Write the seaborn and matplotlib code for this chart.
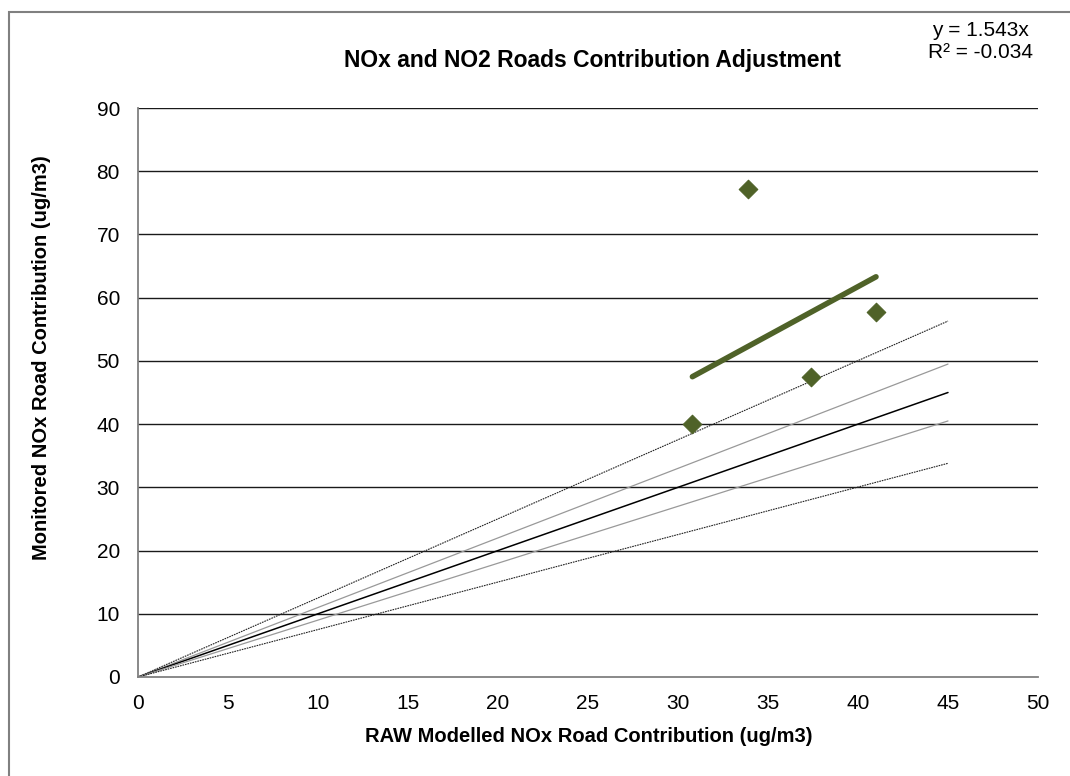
import matplotlib
matplotlib.use("Agg")
import matplotlib.pyplot as plt
import numpy as np
import pandas as pd
import seaborn as sns
from matplotlib.patches import Rectangle

sns.set_style("white")
plt.rcParams['font.family'] = ['Liberation Sans', 'DejaVu Sans']
plt.rcParams['text.color'] = 'black'
plt.rcParams['xtick.color'] = 'black'
plt.rcParams['ytick.color'] = 'black'

# monitored vs modelled points
modelled = [30.8, 33.9, 37.4, 41.0]
monitored = [40.0, 77.2, 47.4, 57.8]

# trend line y = 1.543x over the data range
trend_x = [30.8, 41.0]
trend_y = [47.5, 63.3]

# reference lines from origin to x=45
ref_x = [0, 45]
ref_ends = [56.3, 49.5, 45.0, 40.5, 33.8]
ref_names = ['+25%', '+10%', '1:1', '-10%', '-25%']

x_ticks = list(range(0, 51, 5))
y_ticks = list(range(0, 91, 10))

green = '#4f6228'

fig = plt.figure(figsize=(10.7, 7.76), dpi=100)
ax = fig.add_axes([138/1070, 1 - 677/776, 900/1070, 569/776])

# gridlines
for yv in y_ticks[1:]:
    ax.axhline(yv, color='#1a1a1a', lw=1.0, zorder=1)

ref_styles = {
    '+25%': dict(color='#222222', lw=0.8, ls=(0, (1.5, 0.8))),
    '+10%': dict(color='#999999', lw=0.9, ls='-'),
    '1:1': dict(color='#000000', lw=1.1, ls='-'),
    '-10%': dict(color='#999999', lw=0.9, ls='-'),
    '-25%': dict(color='#222222', lw=0.8, ls=(0, (1.5, 0.8))),
}
for name, yend in zip(ref_names, ref_ends):
    df = pd.DataFrame({'x': ref_x, 'y': [0, yend]})
    st = ref_styles[name]
    sns.lineplot(data=df, x='x', y='y', ax=ax, color=st['color'], lw=st['lw'],
                 linestyle=st['ls'], zorder=2)

df_trend = pd.DataFrame({'x': trend_x, 'y': trend_y})
sns.lineplot(data=df_trend, x='x', y='y', ax=ax, color=green, lw=4,
             solid_capstyle='round', zorder=3)

df_pts = pd.DataFrame({'x': modelled, 'y': monitored})
sns.scatterplot(data=df_pts, x='x', y='y', ax=ax, marker='D', s=90,
                color=green, edgecolor=green, zorder=4)

ax.set_xlim(0, 50)
ax.set_ylim(0, 90)
ax.set_xticks(x_ticks)
ax.set_yticks(y_ticks)
ax.tick_params(axis='both', labelsize=15, labelcolor='black', direction='out',
               length=6, color='#808080', width=1, pad=6)
ax.tick_params(axis='y', pad=7)
for sp in ['top', 'right']:
    ax.spines[sp].set_visible(False)
for sp in ['left', 'bottom']:
    ax.spines[sp].set_color('#808080')
    ax.spines[sp].set_linewidth(1.3)
ax.set_xlabel('')
ax.set_ylabel('')

fig.text(592/1070, 1 - 60/776, 'NOx and NO2 Roads Contribution Adjustment',
         ha='center', va='center', fontsize=16.5, fontweight='bold')
fig.text(589/1070, 1 - 737/776, 'RAW Modelled NOx Road Contribution (ug/m3)',
         ha='center', va='center', fontsize=14.5, fontweight='bold')
fig.text(42/1070, 1 - 358/776, 'Monitored NOx Road Contribution (ug/m3)',
         ha='center', va='center', rotation=90, fontsize=14.5, fontweight='bold')
fig.text(980/1070, 1 - 30/776, 'y = 1.543x', ha='center', va='center', fontsize=15)
fig.text(980/1070, 1 - 52/776, 'R² = -0.034', ha='center', va='center', fontsize=15)

fig.patches.append(Rectangle((9/1070, -0.05), 1.1, 1 - 12/776 + 0.05,
                             transform=fig.transFigure, fill=False,
                             edgecolor='#808080', lw=1.5))

fig.savefig('out.png', dpi=100)
